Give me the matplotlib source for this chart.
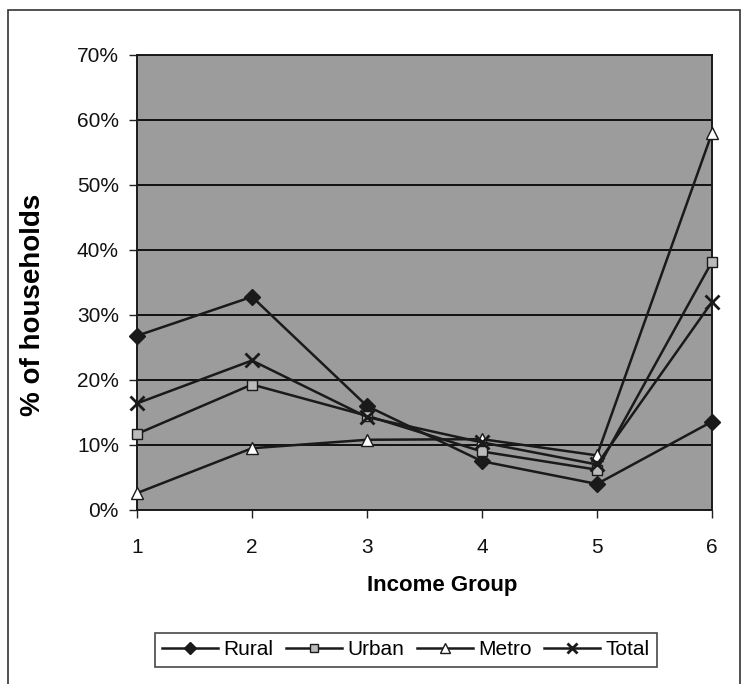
import matplotlib.pyplot as plt
import matplotlib.patches as patches

plt.rcParams['font.family'] = ['Liberation Sans', 'DejaVu Sans']

# данные
groups = [1, 2, 3, 4, 5, 6]
rural = [26.8, 32.8, 16.0, 7.5, 4.0, 13.6]
urban = [11.7, 19.3, 14.5, 9.0, 6.2, 38.2]
metro = [2.6, 9.5, 10.8, 10.9, 8.4, 58.0]
total = [16.4, 23.0, 14.3, 10.4, 7.0, 32.0]
y_ticks = [0, 10, 20, 30, 40, 50, 60, 70]

fig = plt.figure(figsize=(7.46, 6.84), dpi=100)
ax = fig.add_axes([0.1836, 0.2544, 0.7708, 0.6652])
ax.set_facecolor('#9c9c9c')

lw = 1.8
ax.plot(groups, rural, color='#1a1a1a', linewidth=lw, marker='D', markersize=8,
        markerfacecolor='#1a1a1a', markeredgecolor='#1a1a1a', label='Rural', zorder=3, clip_on=False)
ax.plot(groups, urban, color='#1a1a1a', linewidth=lw, marker='s', markersize=7,
        markerfacecolor='#bbbbbb', markeredgecolor='#1a1a1a', label='Urban', zorder=3, clip_on=False)
ax.plot(groups, metro, color='#1a1a1a', linewidth=lw, marker='^', markersize=9,
        markerfacecolor='white', markeredgecolor='#1a1a1a', label='Metro', zorder=3, clip_on=False)
ax.plot(groups, total, color='#1a1a1a', linewidth=lw, marker='x', markersize=10,
        markeredgewidth=2, label='Total', zorder=3, clip_on=False)

ax.set_xlim(1, 6)
ax.set_ylim(0, 70)
ax.set_yticks(y_ticks)
ax.set_yticklabels([str(v) + '%' for v in y_ticks], fontsize=15)
ax.set_xticks(groups)
ax.set_xticklabels([str(g) for g in groups], fontsize=15)
ax.grid(True, axis='y', color='#111111', linewidth=1.4)
ax.set_axisbelow(True)
ax.tick_params(axis='both', direction='out', length=6, width=1, colors='#222222', labelcolor='#111111')
ax.tick_params(axis='y', pad=7)
ax.tick_params(axis='x', pad=14)
for s in ax.spines.values():
    s.set_linewidth(1.4)
    s.set_color('#1a1a1a')

ax.set_xlabel('Income Group', fontsize=16, fontweight='bold')
ax.set_ylabel('% of households', fontsize=20, fontweight='bold')
ax.xaxis.set_label_coords(0.53, -0.165)
ax.yaxis.set_label_coords(-0.181, 0.45)
ax.xaxis.label.set_va('center')
ax.yaxis.label.set_va('center')

leg = fig.legend(loc='center', bbox_to_anchor=(0.544, 0.05), ncol=4, fontsize=15,
                 frameon=True, fancybox=False, edgecolor='#1a1a1a', handlelength=2.7,
                 columnspacing=0.6, handletextpad=0.25, borderpad=0.35, markerscale=0.75)
leg.get_frame().set_linewidth(1.2)

# рамка вокруг диаграммы
fig.patches.append(patches.Rectangle((0.011, -0.01), 0.981, 0.996, transform=fig.transFigure,
                                     fill=False, edgecolor='#333333', linewidth=1.2))

fig.savefig('out.png', dpi=100)
